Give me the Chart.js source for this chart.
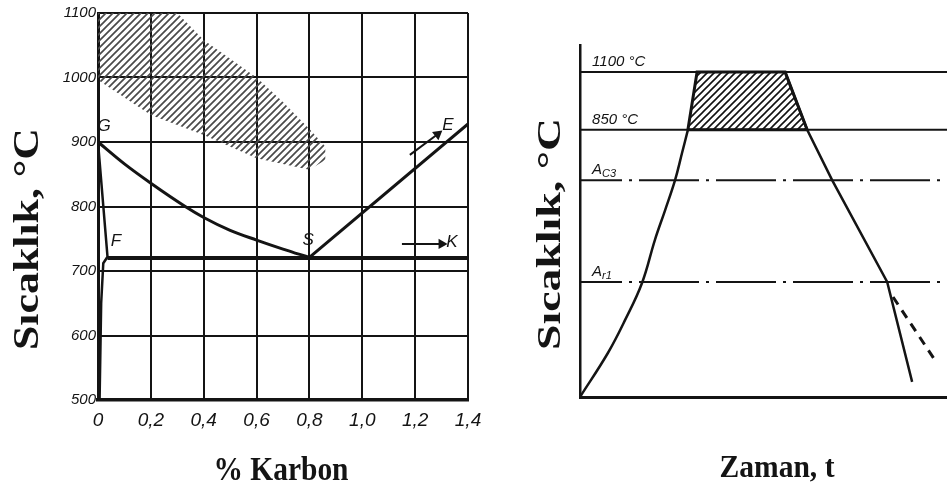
<!DOCTYPE html>
<html>
<head>
<meta charset="utf-8">
<script src="https://cdn.jsdelivr.net/npm/chart.js@4.4.1/dist/chart.umd.min.js"></script>
<style>
  html, body { margin: 0; padding: 0; background: #fff; width: 947px; height: 488px; overflow: hidden; }
  #left { position: absolute; left: 0; top: 0; }
  #right { position: absolute; left: 500px; top: 0; }
</style>
</head>
<body>
<canvas id="left" width="500" height="488"></canvas>
<canvas id="right" width="447" height="488"></canvas>
<script>
// ---- left panel: steel corner of the Fe-C diagram ----
const carbonTicks = [0, 0.2, 0.4, 0.6, 0.8, 1.0, 1.2, 1.4];
const carbonTickLabels = ['0', '0,2', '0,4', '0,6', '0,8', '1,0', '1,2', '1,4'];
const tempTicks = [500, 600, 700, 800, 900, 1000, 1100];

const gsCarbon = [0, 0.1, 0.2, 0.33, 0.4, 0.5, 0.6, 0.7, 0.8];
const gsTemp = [900, 866, 836, 800, 783, 763, 748, 734, 721];
const seCarbon = [0.8, 1.4];
const seTemp = [721, 928];
const gpCarbon = [0, 0.036, 0.02, 0.012, 0.006];
const gpTemp = [900, 722, 712, 650, 500];
const a1Carbon = [0.036, 1.4];
const a1Temp = [720, 720];
// forging range band (hatched)
const bandCarbon = [0, 0.3, 0.4, 0.6, 0.7, 0.8, 0.86, 0.86, 0.8, 0.6, 0.4, 0.2, 0, 0];
const bandTemp = [1100, 1100, 1058, 1000, 962, 920, 893, 872, 857, 875, 911, 942, 996, 1100];
const eArrowCarbon = [1.18, 1.285];
const eArrowTemp = [880, 912];
const kArrowCarbon = [1.15, 1.3];
const kArrowTemp = [742, 742];
const letters = ['G', 'F', 'S', 'E', 'K'];
const letterCarbon = [0.023, 0.068, 0.795, 1.324, 1.339];
const letterTemp = [925, 746, 748, 926, 744];

// ---- right panel: forging schedule (schematic temperature scale 0-100) ----
const levelNames = ['1100 °C', '850 °C', 'A', 'A'];
const levelSubs = ['', '', 'C3', 'r1'];
const levelValues = [92.3, 75.9, 61.6, 32.7];
const heatTime = [0, 7.6, 12.3, 16.9, 20.4, 23.2, 25.9, 27.8, 29.4];
const heatTemp = [0, 12.5, 21.9, 32.4, 44.6, 53.1, 61.6, 69.3, 75.9];
const trapTime = [29.4, 31.9, 55.9, 61.9, 29.4];
const trapTemp = [75.9, 92.3, 92.3, 75.9, 75.9];
const coolTime = [55.9, 61.9, 68.7, 83.7, 90.5];
const coolTemp = [92.3, 75.9, 61.6, 32.7, 4.3];
const dashTime = [85.3, 96.7];
const dashTemp = [28.4, 10.5];

const ink = '#141414';
const pts = (xs, ys) => xs.map((x, i) => ({x: x, y: ys[i]}));

function hatch(color, gap, lw) {
  const c = document.createElement('canvas');
  c.width = gap; c.height = gap;
  const g = c.getContext('2d');
  g.strokeStyle = color; g.lineWidth = lw;
  g.beginPath();
  g.moveTo(-1, gap + 1); g.lineTo(gap + 1, -1);
  g.moveTo(-2, 2); g.lineTo(2, -2);
  g.moveTo(gap - 2, gap + 2); g.lineTo(gap + 2, gap - 2);
  g.stroke();
  return g.createPattern(c, 'repeat');
}

function title(ctx, text, x, y, rot, len, font) {
  ctx.save();
  ctx.font = font;
  const w = ctx.measureText(text).width;
  ctx.translate(x, y);
  ctx.rotate(rot);
  ctx.scale(len / w, 1);
  ctx.fillStyle = ink;
  ctx.textAlign = 'center';
  ctx.textBaseline = 'alphabetic';
  ctx.fillText(text, 0, 0);
  ctx.restore();
}

function line(data, width, extra) {
  return Object.assign({data: data, borderColor: ink, borderWidth: width, pointRadius: 0, fill: false, tension: 0}, extra || {});
}

const leftText = {
  id: 'leftText',
  afterDraw(chart) {
    const {ctx, scales: {x, y}} = chart;
    ctx.save();
    ctx.fillStyle = ink;
    ctx.font = 'italic 17px "Liberation Sans"';
    ctx.textAlign = 'center';
    ctx.textBaseline = 'middle';
    letters.forEach((t, i) => ctx.fillText(t, x.getPixelForValue(letterCarbon[i]), y.getPixelForValue(letterTemp[i])));
    ctx.restore();
    title(ctx, '% Karbon', 281, 480, 0, 135, 'bold 33px "Liberation Serif"');
    title(ctx, 'Sıcaklık, °C', 38, 239, -Math.PI / 2, 222, 'bold 36px "Liberation Serif"');
  }
};

new Chart(document.getElementById('left'), {
  type: 'line',
  data: {
    datasets: [
      line(pts(gsCarbon, gsTemp), 3, {cubicInterpolationMode: 'monotone'}),
      line(pts(seCarbon, seTemp), 3),
      line(pts(gpCarbon, gpTemp), 2.5),
      line(pts(a1Carbon, a1Temp), 4),
      line(pts(eArrowCarbon, eArrowTemp), 2, {pointRadius: [0, 6], pointStyle: 'triangle', pointRotation: 52, pointBackgroundColor: ink, pointBorderWidth: 0}),
      line(pts(kArrowCarbon, kArrowTemp), 2, {pointRadius: [0, 6], pointStyle: 'triangle', pointRotation: 90, pointBackgroundColor: ink, pointBorderWidth: 0}),
      line(pts(bandCarbon, bandTemp), 0, {fill: 'shape', backgroundColor: hatch('#4a4a4a', 7, 1.7)})
    ]
  },
  options: {
    responsive: false,
    animation: false,
    layout: {padding: {top: 13, right: 32, left: 0, bottom: 0}},
    plugins: {legend: {display: false}, tooltip: {enabled: false}},
    scales: {
      x: {
        type: 'linear', min: 0, max: 1.4,
        afterBuildTicks: s => { s.ticks = carbonTicks.map(v => ({value: v})); },
        afterFit: s => { s.height = 88; },
        grid: {color: ink, lineWidth: 2, drawTicks: false},
        border: {color: ink, width: 3.5},
        ticks: {
          padding: 9, color: ink, maxRotation: 0,
          font: {family: '"Liberation Sans Narrow", "Liberation Sans"', style: 'italic', size: 19},
          callback: v => carbonTickLabels[carbonTicks.findIndex(c => Math.abs(c - v) < 1e-6)]
        }
      },
      y: {
        type: 'linear', min: 500, max: 1100,
        afterBuildTicks: s => { s.ticks = tempTicks.map(v => ({value: v})); },
        afterFit: s => { s.width = 98; },
        grid: {color: ink, lineWidth: 2, drawTicks: false},
        border: {color: ink, width: 3},
        ticks: {padding: 2, color: ink, font: {family: '"Liberation Sans"', style: 'italic', size: 15},
          callback: v => String(v)}
      }
    }
  },
  plugins: [leftText]
});

const rightText = {
  id: 'rightText',
  afterDraw(chart) {
    const {ctx, scales: {x, y}} = chart;
    ctx.save();
    ctx.fillStyle = ink;
    ctx.textBaseline = 'alphabetic';
    ctx.textAlign = 'left';
    levelNames.forEach((t, i) => {
      const px = x.getPixelForValue(3.3);
      const py = y.getPixelForValue(levelValues[i]) - 6;
      ctx.font = 'italic 15px "Liberation Sans"';
      ctx.fillText(t, px, py);
      if (levelSubs[i]) {
        const w = ctx.measureText(t).width;
        ctx.font = 'italic 11px "Liberation Sans"';
        ctx.fillText(levelSubs[i], px + w, py + 3);
      }
    });
    ctx.restore();
    title(ctx, 'Zaman, t', 277, 477, 0, 115, 'bold 32px "Liberation Serif"');
    title(ctx, 'Sıcaklık, °C', 60, 234, -Math.PI / 2, 232, 'bold 34px "Liberation Serif"');
  }
};

const levelSets = levelValues.map((v, i) => line(pts([0, 100], [v, v]), 2,
  i >= 2 ? {borderDash: [60, 7, 3, 7], borderDashOffset: 18} : {}));

new Chart(document.getElementById('right'), {
  type: 'line',
  data: {
    datasets: [
      line(pts(heatTime, heatTemp), 2.5, {tension: 0.4}),
      line(pts(coolTime, coolTemp), 2.5),
      line(pts(dashTime, dashTemp), 3, {borderDash: [9, 7]}),
      line(pts(trapTime, trapTemp), 3, {fill: 'shape', backgroundColor: hatch('#111', 7, 1.6)})
    ].concat(levelSets)
  },
  options: {
    responsive: false,
    animation: false,
    layout: {padding: {top: 45, right: 0, left: 0, bottom: 0}},
    plugins: {legend: {display: false}, tooltip: {enabled: false}},
    scales: {
      x: {
        type: 'linear', min: 0, max: 100,
        afterFit: s => { s.height = 91; },
        grid: {display: false},
        border: {color: ink, width: 3},
        ticks: {display: false}
      },
      y: {
        type: 'linear', min: 0, max: 100,
        afterFit: s => { s.width = 80; },
        grid: {display: false},
        border: {color: ink, width: 2.5},
        ticks: {display: false}
      }
    }
  },
  plugins: [rightText]
});
</script>
</body>
</html>
